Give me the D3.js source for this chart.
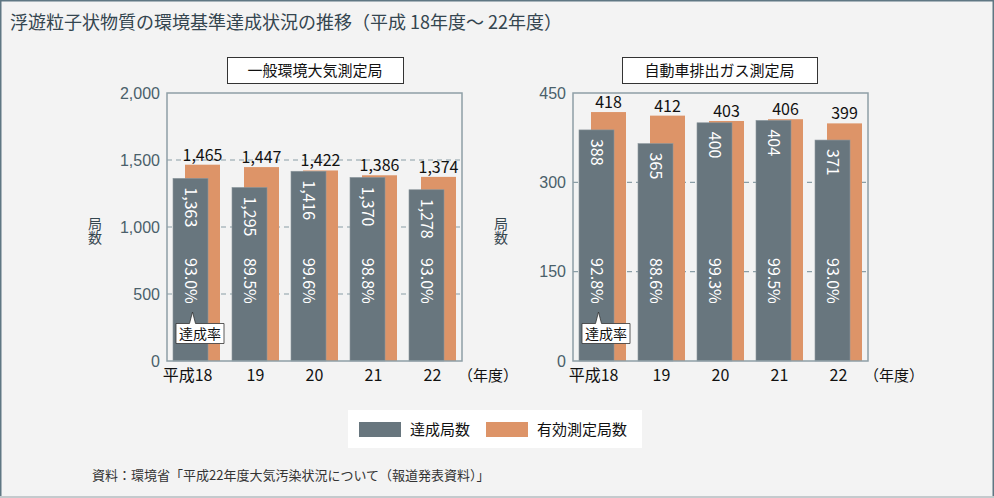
<!DOCTYPE html>
<html><head><meta charset="utf-8">
<script src="https://cdn.jsdelivr.net/npm/d3@7"></script>
<style>
html,body{margin:0;padding:0;background:#f3f3f3;}
svg{display:block;font-family:"Noto Sans CJK JP","Noto Sans",sans-serif;}
</style></head><body>
<script>
const years = ["平成18","19","20","21","22"];
const generalAchieved = [1363,1295,1416,1370,1278];
const generalValid = [1465,1447,1422,1386,1374];
const generalRate = ["93.0%","89.5%","99.6%","98.8%","93.0%"];
const generalTicks = [0,500,1000,1500,2000];
const roadAchieved = [388,365,400,404,371];
const roadValid = [418,412,403,406,399];
const roadRate = ["92.8%","88.6%","99.3%","99.5%","93.0%"];
const roadTicks = [0,150,300,450];
const seriesNames = ["達成局数","有効測定局数"];
const colors = ["#68767e","#dd9468"];

const W=994,H=498;
const svg=d3.select("body").append("svg").attr("width",W).attr("height",H);
svg.append("rect").attr("x",0.5).attr("y",0.5).attr("width",W-1).attr("height",H-1)
  .attr("fill","#f3f3f3").attr("stroke","#5f7783").attr("stroke-width",2);
svg.append("line").attr("x1",0).attr("x2",W).attr("y1",H-1).attr("y2",H-1).attr("stroke","#c4cacd").attr("stroke-width",2);

svg.append("text").attr("x",10).attr("y",29).attr("font-size",18).attr("fill","#34454f")
  .text("浮遊粒子状物質の環境基準達成状況の推移（平成 18年度～ 22年度）");

function panel(opt){
  const {left,title,titleBox,ach,val,rate,ticks,max}=opt;
  const top=93,bottom=361,width=295;
  const g=svg.append("g");
  const x=d3.scaleBand().domain(years).range([left,left+width]);
  const y=d3.scaleLinear().domain([0,max]).range([bottom,top]);
  // title box
  g.append("rect").attr("x",titleBox[0]+0.5).attr("y",57.5).attr("width",titleBox[1]-titleBox[0]).attr("height",26)
    .attr("fill","#fff").attr("stroke","#333").attr("stroke-width",1);
  g.append("text").attr("x",(titleBox[0]+titleBox[1])/2).attr("y",76).attr("text-anchor","middle")
    .attr("font-size",15).attr("fill","#111").text(title);
  // gridlines
  g.selectAll(".grid").data(ticks.filter(t=>t>0&&t<max)).join("line")
    .attr("x1",left).attr("x2",left+width).attr("y1",d=>y(d)).attr("y2",d=>y(d))
    .attr("stroke","#8a9ea6").attr("stroke-width",1.2).attr("stroke-dasharray","5,4");
  // axis ticks
  const ax=d3.axisLeft(y).tickValues(ticks).tickSize(0).tickPadding(7).tickFormat(d3.format(","));
  const ag=g.append("g").attr("transform",`translate(${left},0)`).call(ax);
  ag.select(".domain").remove();
  ag.selectAll("text").attr("font-size",16).attr("fill","#4a5f6a").attr("font-family","inherit");
  const bw=35;
  // valid bars (orange)
  g.selectAll(".v").data(val).join("rect")
    .attr("x",(d,i)=>x(years[i])+18).attr("width",bw)
    .attr("y",d=>y(d)).attr("height",d=>bottom-y(d)).attr("fill",colors[1]);
  // achieved bars
  g.selectAll(".a").data(ach).join("rect")
    .attr("x",(d,i)=>x(years[i])+6).attr("width",bw)
    .attr("y",d=>y(d)).attr("height",d=>bottom-y(d)).attr("fill",colors[0])
    .attr("stroke","#8c979d").attr("stroke-width",0.6);
  // valid labels
  g.selectAll(".vl").data(val).join("text")
    .attr("x",(d,i)=>x(years[i])+18+bw/2).attr("y",d=>y(d)-4).attr("text-anchor","middle")
    .attr("font-size",16).attr("fill","#111").text(d=>d3.format(",")(d));
  // achieved labels rotated
  g.selectAll(".al").data(ach).join("text")
    .attr("transform",(d,i)=>`translate(${x(years[i])+6+bw/2},${y(d)+9}) rotate(90)`)
    .attr("dy","0.35em").attr("font-size",16).attr("fill","#fff").text(d=>d3.format(",")(d));
  // rate labels
  g.selectAll(".rl").data(rate).join("text")
    .attr("transform",(d,i)=>`translate(${x(years[i])+6+bw/2},258) rotate(90)`)
    .attr("dy","0.35em").attr("font-size",16).attr("fill","#fff").text(d=>d);
  // plot border
  g.append("rect").attr("x",left).attr("y",top).attr("width",width).attr("height",bottom-top)
    .attr("fill","none").attr("stroke","#8e9fa6").attr("stroke-width",1.5);
  // x labels
  g.selectAll(".xl").data(years).join("text")
    .attr("x",(d,i)=>i===0?x(d)+x.bandwidth()/2+16:x(d)+x.bandwidth()/2)
    .attr("y",381).attr("text-anchor",(d,i)=>i===0?"end":"middle")
    .attr("font-size",16).attr("fill","#111").text(d=>d);
  g.append("text").attr("x",left+width-4).attr("y",381).attr("font-size",15).attr("fill","#111").text("（年度）");
  // y title (vertical)
  g.append("text").attr("x",left-72).attr("y",217)
    .attr("style","writing-mode:vertical-rl;text-orientation:upright;")
    .attr("font-size",14).attr("fill","#34454f").text("局数");
  // callout
  const cx=x(years[0])+6+bw/2+2;
  const bx=left+9, bwid=48;
  g.append("path")
    .attr("d",`M${bx},323.5 L${cx-3},323.5 L${cx},312 L${cx+3},323.5 L${bx+bwid},323.5 L${bx+bwid},343.5 L${bx},343.5 Z`)
    .attr("fill","#fff").attr("stroke","#333").attr("stroke-width",0.8);
  g.append("text").attr("x",bx+bwid/2).attr("y",339).attr("text-anchor","middle").attr("font-size",14).attr("fill","#111").text("達成率");
}
panel({left:167,title:"一般環境大気測定局",titleBox:[227,403],ach:generalAchieved,val:generalValid,rate:generalRate,ticks:generalTicks,max:2000});
panel({left:573,title:"自動車排出ガス測定局",titleBox:[622,817],ach:roadAchieved,val:roadValid,rate:roadRate,ticks:roadTicks,max:450});

// legend
const lg=svg.append("g");
lg.append("rect").attr("x",348).attr("y",410).attr("width",294).attr("height",38).attr("fill","#fff");
seriesNames.forEach((n,i)=>{
  const sx=[359,486][i];
  lg.append("rect").attr("x",sx).attr("y",422).attr("width",42).attr("height",15).attr("fill",colors[i]);
  lg.append("text").attr("x",sx+51).attr("y",435).attr("font-size",15).attr("fill","#111").text(n);
});
svg.append("text").attr("x",92).attr("y",480).attr("font-size",13).attr("fill","#333")
  .text("資料：環境省「平成22年度大気汚染状況について（報道発表資料）」");
</script>
</body></html>
